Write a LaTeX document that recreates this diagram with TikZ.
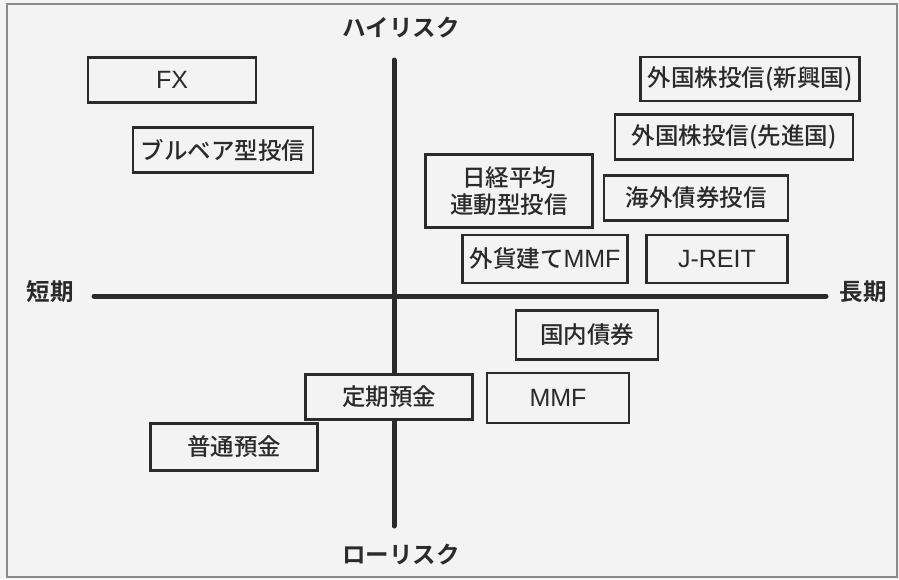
\documentclass[tikz,border=0pt]{standalone}
\usepackage{fontspec}
\newfontfamily\jp[UprightFont=* Medium, BoldFont=* Bold]{Noto Sans CJK JP}
\newfontfamily\lat{Liberation Sans}
\newcommand{\latw}[1]{{\lat\fontsize{25}{27}\selectfont #1}}
\definecolor{bg}{HTML}{F3F3F3}
\definecolor{ink}{HTML}{2A2A2A}
\definecolor{frame}{HTML}{8A8A8A}
\tikzset{
  item/.style={draw=ink, line width=2.6pt, fill=bg, inner sep=0pt, outer sep=0pt,
    text=ink, font=\jp\fontsize{23.5}{27}\selectfont, align=center},
  axis/.style={draw=ink, line width=5pt, line cap=round},
  axlabel/.style={text=ink, font=\jp\bfseries\fontsize{23.5}{27}\selectfont, inner sep=0pt}
}
\begin{document}
\begin{tikzpicture}[x=1pt,y=-1pt]
\useasboundingbox (0,0) rectangle (899,579);
\fill[bg] (0,0) rectangle (899,579);
\draw[frame, line width=1.2pt] (7,4) rectangle (897,577);
% axes
\coordinate (vt) at (394,60);
\coordinate (vb) at (394,526);
\coordinate (hl) at (94,296);
\coordinate (hr) at (826,296);
\draw[axis] (vt) -- (vb);
\draw[axis] (hl) -- (hr);
% axis labels
\node[axlabel] (hi) at (401,28) {ハイリスク};
\node[axlabel] (lo) at (401,555) {ローリスク};
\node[axlabel] (short) at (50,292) {短期};
\node[axlabel] (long) at (863,292) {長期};
% boxes
\node[item, minimum width=168, minimum height=45] (fx) at (172,80) {\latw{FX}};
\node[item, minimum width=180, minimum height=45] (bb) at (223,150) {ブルベア型投信};
\node[item, minimum width=219, minimum height=44] (em) at (750,79) {外国株投信(新興国)};
\node[item, minimum width=238, minimum height=45] (dv) at (734,137) {外国株投信(先進国)};
\node[item, minimum width=167, minimum height=73] (nk) at (509,191) {日経平均\\連動型投信};
\node[item, minimum width=184, minimum height=45] (fb) at (696,198) {海外債券投信};
\node[item, minimum width=165, minimum height=48] (fm) at (545,259) {外貨建て\latw{MMF}};
\node[item, minimum width=141, minimum height=48] (jr) at (717,259) {\latw{J-REIT}};
\node[item, minimum width=142, minimum height=49] (db) at (587,335) {国内債券};
\node[item, minimum width=142, minimum height=50] (mmf) at (558,398) {\latw{MMF}};
\node[item, minimum width=167, minimum height=45] (td) at (389,397) {定期預金};
\node[item, minimum width=167, minimum height=47] (sd) at (234,447) {普通預金};
\end{tikzpicture}
\end{document}
